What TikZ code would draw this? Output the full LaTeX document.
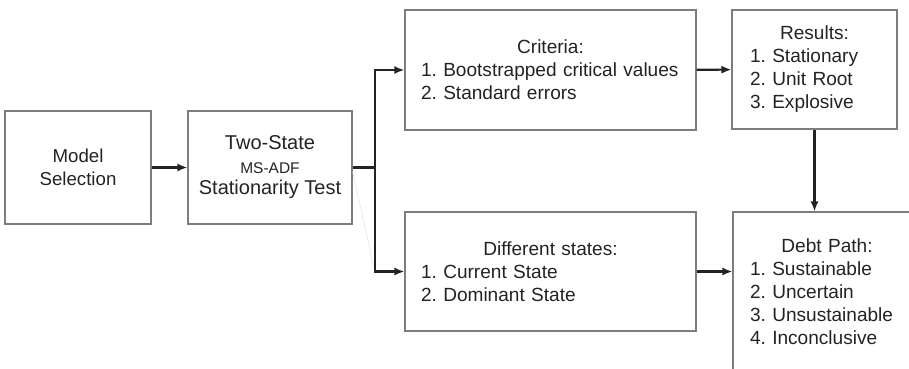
\documentclass[tikz,border=0pt]{standalone}
\usepackage{fontspec}
\setmainfont{Liberation Sans}
\usetikzlibrary{arrows.meta,positioning,calc}
\definecolor{Frame}{RGB}{125,125,125}
\definecolor{Ink}{RGB}{35,35,35}
\newcommand{\boxhead}[1]{\makebox[\hsize]{#1}}

\begin{document}
\begin{tikzpicture}[x=0.75pt,y=-0.75pt,
    box/.style={draw=Frame, line width=0.8pt, text=Ink, inner sep=0pt},
    listbox/.style={box, align=left, font=\fontsize{14.3}{17.25}\selectfont\frenchspacing},
    flow/.style={-{Latex[length=7.5pt,width=6pt]}, line width=1.6pt, Ink}]
  \useasboundingbox (0,0) rectangle (909,368);
  \clip (0,0) rectangle (909,368);
  % test side
  \node[box, minimum width=109.5pt, minimum height=84.75pt, align=center,
        font=\fontsize{14}{17.25}\selectfont] (sel) at (78,167.5) {Model\\Selection};
  \node[box, minimum width=123pt, minimum height=84.75pt, align=center,
        font=\fontsize{15}{17.5}\selectfont] (test) at (270,167.5)
        {Two-State\\{\fontsize{11.6}{17.5}\selectfont MS-ADF}\\[-1.3pt]Stationarity Test};
  \coordinate (fork) at (375,167.5);
  % outcome side
  \node[listbox, minimum width=218.25pt, minimum height=90pt, text width=194.25pt] (crit) at (550.5,70)
        {\boxhead{Criteria:}\\1. Bootstrapped critical values\\2. Standard errors};
  \node[listbox, minimum width=123.75pt, minimum height=89.25pt, text width=96.75pt] (res) at (814.5,69.5)
        {\boxhead{Results:}\\1. Stationary\\2. Unit Root\\3. Explosive};
  \node[listbox, minimum width=218.25pt, minimum height=89.25pt, text width=194.25pt] (states) at (550.5,271.5)
        {\boxhead{Different states:}\\1. Current State\\2. Dominant State};
  \node[listbox, minimum width=141pt, minimum height=120pt, text width=115.5pt] (debt) at (827,292)
        {\boxhead{Debt Path:}\\1. Sustainable\\2. Uncertain\\3. Unsustainable\\4. Inconclusive};
  % arrows
  \draw[flow] (sel) -- (test);
  \draw[flow] (test.east) -- (fork) |- (crit);
  \draw[flow] (fork) |- (states);
  \draw[flow] (crit) -- (res);
  \draw[flow] (res) -- (res |- debt.north);
  \draw[flow] (states) -- (states -| debt.west);
  \draw[gray!30, line width=0.3pt] ([yshift=-3pt]test.east) -- ([xshift=-1pt,yshift=4pt]fork |- states);
\end{tikzpicture}
\end{document}
